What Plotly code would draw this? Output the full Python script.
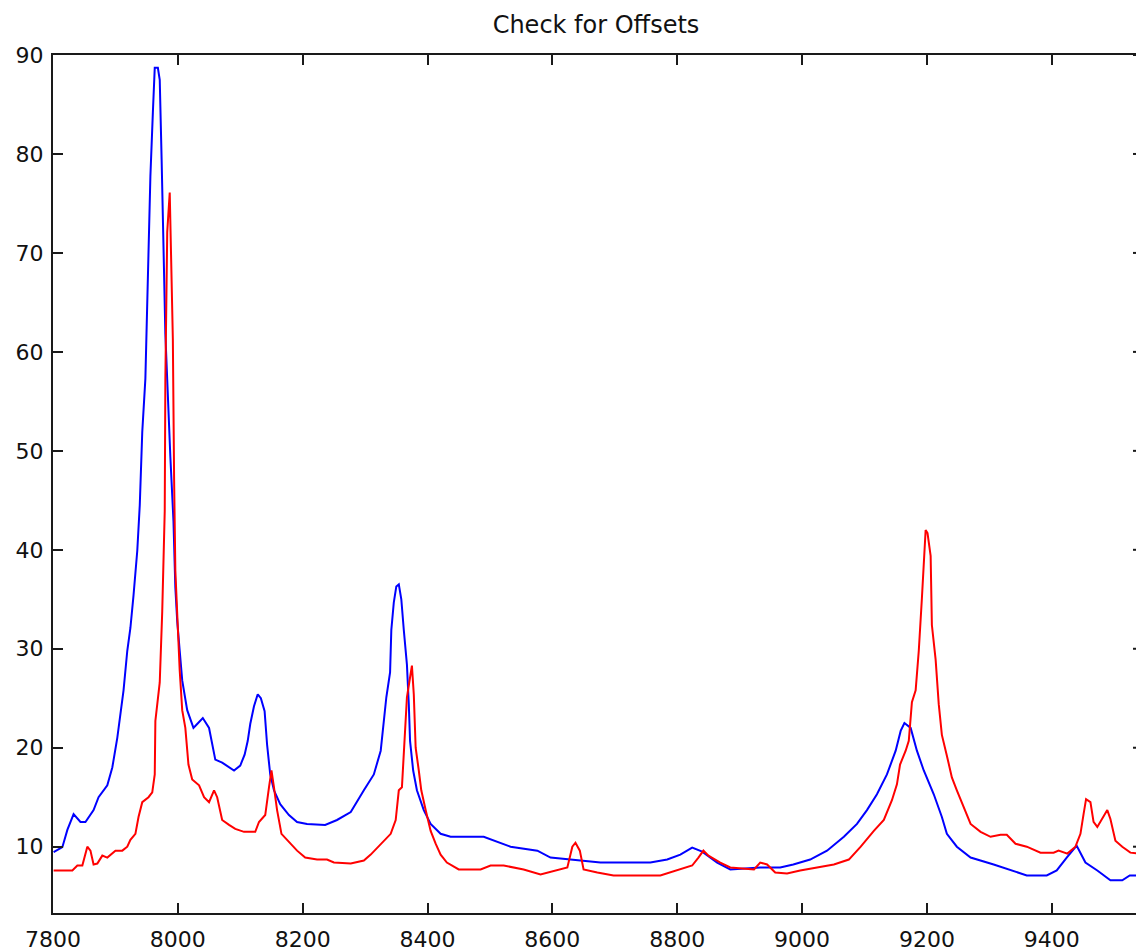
import plotly.graph_objects as go

# Spectrum A (blue trace)
blue_x = [7801, 7815, 7823, 7833, 7844, 7852, 7865, 7873, 7887, 7895, 7903, 7908,
          7913, 7919, 7924, 7929, 7935, 7939, 7943, 7948, 7951, 7956, 7960, 7963,
          7968, 7971, 7974, 7977, 7980, 7988, 7993, 7996, 7999, 8003, 8007, 8015,
          8025, 8031, 8040, 8050, 8055, 8060, 8071, 8082, 8090, 8100, 8107, 8112,
          8116, 8122, 8128, 8133, 8139, 8143, 8148, 8154, 8164, 8178, 8191, 8207,
          8236, 8255, 8277, 8298, 8314, 8325, 8330, 8334, 8340, 8342, 8346, 8350,
          8354, 8358, 8362, 8367, 8370, 8372, 8377, 8383, 8394, 8405, 8421, 8437,
          8490, 8511, 8533, 8576, 8597, 8629, 8677, 8757, 8784, 8805, 8824, 8840,
          8864, 8885, 8933, 8965, 8986, 9013, 9040, 9067, 9088, 9104, 9120, 9136,
          9150, 9158, 9164, 9174, 9184, 9195, 9211, 9224, 9232, 9248, 9270, 9307,
          9334, 9360, 9392, 9408, 9424, 9440, 9454, 9473, 9494, 9513, 9525, 9540]
blue_y = [9.45, 9.95, 11.7, 13.3, 12.5, 12.5, 13.7, 15.0, 16.2, 18.0, 21.0, 23.4,
          25.8, 29.8, 32.1, 35.4, 39.9, 44.5, 51.9, 57.3, 65.7, 77.7, 84.2, 88.7,
          88.7, 87.5, 79.5, 71.2, 61.8, 49.4, 42.9, 36.2, 32.8, 29.8, 26.8, 23.8,
          22.0, 22.4, 23.0, 22.0, 20.3, 18.8, 18.5, 18.0, 17.7, 18.2, 19.3, 20.7,
          22.4, 24.2, 25.4, 25.0, 23.7, 20.3, 17.3, 15.7, 14.3, 13.2, 12.5, 12.3,
          12.2, 12.7, 13.5, 15.7, 17.3, 19.7, 22.7, 25.1, 27.6, 31.9, 34.7, 36.3,
          36.5, 35.0, 31.9, 28.4, 24.4, 20.7, 17.7, 15.7, 13.7, 12.3, 11.3, 11.0,
          11.0, 10.5, 10.0, 9.6, 8.9, 8.7, 8.4, 8.4, 8.7, 9.2, 9.9, 9.5,
          8.4, 7.7, 7.9, 7.9, 8.2, 8.7, 9.6, 11.0, 12.3, 13.7, 15.3, 17.3,
          19.7, 21.7, 22.5, 22.0, 19.7, 17.7, 15.3, 13.0, 11.3, 10.0, 8.9, 8.2,
          7.6, 7.1, 7.1, 7.6, 8.9, 10.1, 8.4, 7.6, 6.6, 6.6, 7.1, 7.1]

# Spectrum B (red trace)
red_x = [7801, 7831, 7839, 7847, 7855, 7860, 7865, 7871, 7879, 7887, 7900, 7911,
         7919, 7924, 7932, 7937, 7943, 7953, 7959, 7963, 7964, 7968, 7971, 7975,
         7979, 7980, 7983, 7987, 7989, 7992, 7994, 7996, 8000, 8003, 8007, 8012,
         8017, 8023, 8034, 8042, 8050, 8058, 8063, 8071, 8082, 8092, 8106, 8124,
         8130, 8140, 8146, 8150, 8154, 8159, 8166, 8178, 8191, 8204, 8223, 8239,
         8250, 8277, 8298, 8309, 8325, 8341, 8349, 8351, 8354, 8359, 8363, 8367,
         8372, 8375, 8378, 8381, 8386, 8390, 8397, 8405, 8413, 8421, 8431, 8450,
         8485, 8501, 8522, 8554, 8581, 8608, 8624, 8632, 8637, 8644, 8650, 8672,
         8698, 8773, 8805, 8824, 8834, 8842, 8850, 8869, 8885, 8923, 8933, 8944,
         8957, 8976, 8997, 9024, 9051, 9075, 9094, 9115, 9131, 9144, 9152, 9157,
         9166, 9171, 9176, 9182, 9187, 9192, 9195, 9198, 9201, 9206, 9208, 9214,
         9219, 9224, 9232, 9240, 9248, 9259, 9270, 9286, 9302, 9318, 9328, 9342,
         9360, 9382, 9403, 9411, 9425, 9438, 9446, 9451, 9455, 9462, 9467, 9473,
         9481, 9489, 9494, 9502, 9513, 9526, 9540]
red_y = [7.6, 7.6, 8.1, 8.1, 10.0, 9.6, 8.2, 8.3, 9.1, 8.9, 9.6, 9.6,
         10.0, 10.7, 11.3, 13.0, 14.5, 15.0, 15.5, 17.3, 22.7, 25.1, 26.6, 33.8,
         43.9, 57.3, 72.1, 76.1, 69.6, 61.3, 47.2, 37.9, 32.1, 27.8, 23.8, 22.0,
         18.3, 16.8, 16.2, 15.0, 14.5, 15.7, 15.0, 12.7, 12.2, 11.8, 11.5, 11.5,
         12.5, 13.2, 16.0, 17.7, 16.0, 13.7, 11.3, 10.5, 9.6, 8.9, 8.7, 8.7,
         8.4, 8.3, 8.6, 9.2, 10.3, 11.3, 12.7, 14.0, 15.7, 16.0, 21.0, 25.1,
         27.1, 28.3, 25.4, 20.0, 17.7, 15.7, 13.7, 11.6, 10.3, 9.2, 8.4, 7.7,
         7.7, 8.1, 8.1, 7.7, 7.2, 7.6, 7.9, 10.0, 10.4, 9.6, 7.7, 7.4,
         7.1, 7.1, 7.7, 8.1, 8.9, 9.6, 9.1, 8.4, 7.9, 7.7, 8.4, 8.2,
         7.4, 7.3, 7.6, 7.9, 8.2, 8.7, 10.0, 11.6, 12.7, 14.7, 16.3, 18.3,
         19.7, 20.7, 24.6, 25.8, 29.8, 35.1, 38.5, 42.0, 41.7, 39.4, 32.4, 28.9,
         24.4, 21.3, 19.2, 17.0, 15.7, 14.0, 12.3, 11.5, 11.0, 11.2, 11.2, 10.3,
         10.0, 9.4, 9.4, 9.6, 9.3, 10.0, 11.3, 13.3, 14.8, 14.5, 12.5, 12.0,
         12.8, 13.7, 12.8, 10.6, 10.0, 9.4, 9.3]

x_ticks = [7800, 8000, 8200, 8400, 8600, 8800, 9000, 9200, 9400]
y_ticks = [10, 20, 30, 40, 50, 60, 70, 80, 90]

X_RANGE = [7800, 9535]
Y_RANGE = [3.3, 90]

FONT = "DejaVu Sans"
AXIS_COLOR = "#1a1a1a"

fig = go.Figure()
fig.add_trace(go.Scatter(x=blue_x, y=blue_y, mode="lines",
                         line=dict(color="#0000ff", width=2), showlegend=False))
fig.add_trace(go.Scatter(x=red_x, y=red_y, mode="lines",
                         line=dict(color="#ff0000", width=2), showlegend=False))

# short inward tick stubs along the right edge
for v in y_ticks:
    fig.add_shape(type="line", xref="paper", yref="y",
                  x0=1 - 3 / 1083, x1=1, y0=v, y1=v,
                  line=dict(color=AXIS_COLOR, width=2))

fig.update_layout(
    width=1136, height=952,
    margin=dict(l=53, r=0, t=55, b=36),
    paper_bgcolor="white", plot_bgcolor="white",
    font=dict(family=FONT, size=22, color="#111111"),
    title=dict(text="Check for Offsets", x=596 / 1136, xanchor="center",
               xref="container", y=1 - 25 / 952, yanchor="middle", yref="container",
               font=dict(family=FONT, size=24, color="#111111")),
)
fig.update_xaxes(range=X_RANGE, tickvals=x_ticks, ticktext=[str(t) for t in x_ticks],
                 showgrid=False, zeroline=False, showline=True, linecolor=AXIS_COLOR,
                 linewidth=2, mirror="ticks", ticks="inside", ticklen=10, tickwidth=2,
                 tickcolor=AXIS_COLOR, ticklabelstandoff=6)
fig.update_yaxes(range=Y_RANGE, tickvals=y_ticks, ticktext=[str(t) for t in y_ticks],
                 showgrid=False, zeroline=False, showline=True, linecolor=AXIS_COLOR,
                 linewidth=2, mirror=False, ticks="inside", ticklen=10, tickwidth=2,
                 tickcolor=AXIS_COLOR, ticklabelstandoff=3)

fig.write_html("out.html")
